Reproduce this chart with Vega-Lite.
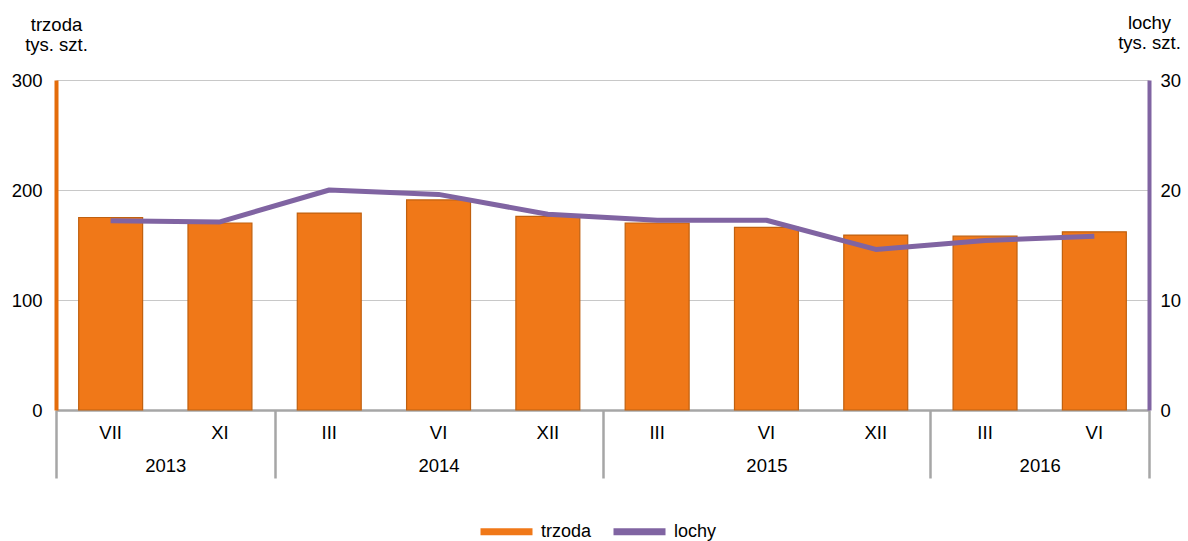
{
  "$schema": "https://vega.github.io/schema/vega-lite/v6.json",
  "width": 1093,
  "height": 330,
  "autosize": {"type": "none"},
  "padding": {"left": 56, "top": 80, "right": 39, "bottom": 131},
  "background": "white",
  "config": {
    "font": "Liberation Sans",
    "view": {"stroke": null},
    "axis": {
      "labelFont": "Liberation Sans",
      "labelFontSize": 18.5,
      "labelColor": "#000000",
      "titleFont": "Liberation Sans",
      "titleFontSize": 18.5,
      "titleFontWeight": "normal",
      "titleColor": "#000000"
    }
  },
  "datasets": {
    "main": [
      {"key": "VII 2013", "trzoda": 175, "lochy": 17.2},
      {"key": "XI 2013", "trzoda": 170, "lochy": 17.1},
      {"key": "III 2014", "trzoda": 179, "lochy": 20.0},
      {"key": "VI 2014", "trzoda": 191, "lochy": 19.6},
      {"key": "XII 2014", "trzoda": 176, "lochy": 17.8},
      {"key": "III 2015", "trzoda": 170, "lochy": 17.25},
      {"key": "VI 2015", "trzoda": 166, "lochy": 17.25},
      {"key": "XII 2015", "trzoda": 159, "lochy": 14.6},
      {"key": "III 2016", "trzoda": 158, "lochy": 15.4},
      {"key": "VI 2016", "trzoda": 162, "lochy": 15.8}
    ],
    "years": [
      {"year": "2013", "from": 0, "to": 2},
      {"year": "2014", "from": 2, "to": 5},
      {"year": "2015", "from": 5, "to": 8},
      {"year": "2016", "from": 8, "to": 10}
    ]
  },
  "layer": [
    {
      "data": {"name": "main"},
      "mark": {"type": "bar", "stroke": "#C0600F", "strokeWidth": 1.2},
      "encoding": {
        "x": {
          "field": "key", "type": "ordinal", "sort": null,
          "scale": {"paddingInner": 0.415, "paddingOuter": 0.2075},
          "axis": {
            "orient": "bottom",
            "title": null, "labelExpr": "split(datum.value, ' ')[0]", "labelAngle": 0,
            "ticks": false, "labelPadding": 13, "domainColor": "#A6A6A6", "domainWidth": 2.5,
            "grid": false, "offset": 0
          }
        },
        "y": {
          "field": "trzoda", "type": "quantitative",
          "scale": {"domain": [0, 300], "nice": false},
          "axis": {
            "values": [0, 100, 200, 300],
            "title": ["trzoda", "tys. szt."], "titleAngle": 0, "titleAlign": "center",
            "titleBaseline": "alphabetic", "titleX": 0, "titleY": -50, "titleLineHeight": 20,
            "domainColor": "#E46C0A", "domainWidth": 4, "ticks": false, "labelPadding": 14,
            "grid": true, "gridColor": "#C8C8C8", "gridWidth": 1.2
          }
        },
        "color": {
          "datum": "trzoda", "type": "nominal",
          "scale": {"domain": ["trzoda", "lochy"], "range": ["#F07818", "#8064A2"]},
          "legend": {
            "title": null, "orient": "none", "legendX": 421, "legendY": 422,
            "direction": "horizontal", "labelFontSize": 18, "labelColor": "#000000",
            "labelFont": "Liberation Sans",
            "symbolType": "M-1,0L1,0",
            "symbolSize": 2704, "columnPadding": 7, "labelOffset": 5,
            "symbolStrokeWidth": 7
          }
        }
      }
    },
    {
      "data": {"name": "main"},
      "mark": {"type": "line", "strokeWidth": 5, "strokeJoin": "round"},
      "encoding": {
        "x": {"field": "key", "type": "ordinal", "sort": null, "axis": null},
        "y": {
          "field": "lochy", "type": "quantitative",
          "scale": {"domain": [0, 30], "nice": false},
          "axis": {
            "orient": "right", "values": [0, 10, 20, 30],
            "title": ["lochy", "tys. szt."], "titleAngle": 0, "titleAlign": "center",
            "titleBaseline": "alphabetic", "titleX": 0, "titleY": -52, "titleLineHeight": 20,
            "domainColor": "#8064A2", "domainWidth": 4, "ticks": false, "labelPadding": 11,
            "grid": false
          }
        },
        "color": {"datum": "lochy", "type": "nominal"}
      }
    },
    {
      "data": {"name": "years"},
      "mark": {"type": "point", "opacity": 0},
      "encoding": {
        "x": {
          "field": "from", "type": "quantitative",
          "scale": {"domain": [0, 10], "nice": false, "zero": false},
          "axis": {
            "orient": "bottom",
            "title": null, "values": [1, 3.5, 6.5, 9],
            "labelExpr": "datum.value < 2 ? '2013' : datum.value < 5 ? '2014' : datum.value < 8 ? '2015' : '2016'",
            "ticks": false, "domain": false, "grid": false, "labelPadding": 46, "offset": 0
          }
        }
      }
    },
    {
      "data": {"name": "years"},
      "mark": {"type": "point", "opacity": 0},
      "encoding": {
        "x": {
          "field": "to", "type": "quantitative",
          "scale": {"domain": [0, 10], "nice": false, "zero": false},
          "axis": {
            "orient": "bottom",
            "title": null, "values": [0, 2, 5, 8, 10], "labels": false,
            "ticks": true, "tickSize": 68, "tickColor": "#A6A6A6", "tickWidth": 2.5,
            "domain": false, "grid": false, "offset": 0
          }
        }
      }
    }
  ],
  "resolve": {
    "scale": {"x": "independent", "y": "independent"},
    "axis": {"x": "independent", "y": "independent"}
  }
}
